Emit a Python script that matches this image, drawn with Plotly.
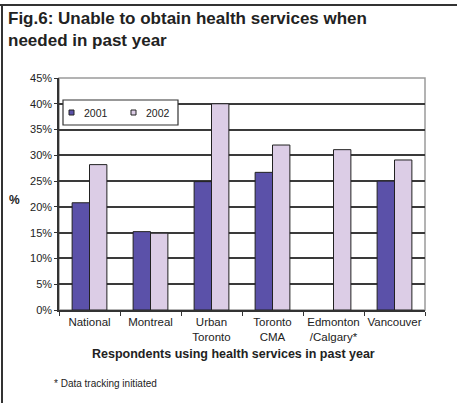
import plotly.graph_objects as go

categories = ["National", "Montreal", "Urban<br>Toronto", "Toronto<br>CMA", "Edmonton<br>/Calgary*", "Vancouver"]
series_names = ["2001", "2002"]
values_2001 = [20.8, 15.2, 24.9, 26.7, None, 25.0]
values_2002 = [28.2, 14.9, 40.0, 32.0, 31.1, 29.1]
y_ticks = [0, 5, 10, 15, 20, 25, 30, 35, 40, 45]
y_tick_labels = ["0%", "5%", "10%", "15%", "20%", "25%", "30%", "35%", "40%", "45%"]

C2001 = "#5b51a9"
C2002 = "#dccde6"
FONT = "Liberation Sans, Arial, sans-serif"

# plot area in pixels: x 59..425, y 78..310
L, R, T, B = 59, 425, 78, 310
PW, PH = R - L, B - T
def px(x):
    return (x - L) / PW
def py(y):
    return (B - y) / PH

fig = go.Figure()
fig.add_trace(go.Bar(x=categories, y=values_2001, name=series_names[0],
                     marker=dict(color=C2001, line=dict(color="#222", width=1))))
fig.add_trace(go.Bar(x=categories, y=values_2002, name=series_names[1],
                     marker=dict(color=C2002, line=dict(color="#222", width=1))))

shapes = [
    dict(type="rect", xref="paper", yref="paper", x0=0, x1=1, y0=0, y1=1,
         line=dict(color="#9a9a9a", width=1.5), layer="below"),
    # page frame (top and left)
    dict(type="line", xref="paper", yref="paper", x0=px(0), x1=px(457),
         y0=py(5), y1=py(5), line=dict(color="#333", width=2)),
    dict(type="line", xref="paper", yref="paper", x0=px(2), x1=px(2),
         y0=py(403), y1=py(5), line=dict(color="#333", width=2)),
    # legend box
    dict(type="rect", xref="paper", yref="paper", x0=px(63), x1=px(178),
         y0=py(125), y1=py(100), line=dict(color="#333", width=1.2), fillcolor="white"),
    # legend swatches
    dict(type="rect", xref="paper", yref="paper", x0=px(69), x1=px(74),
         y0=py(115), y1=py(110), line=dict(color="#222", width=1), fillcolor=C2001),
    dict(type="rect", xref="paper", yref="paper", x0=px(131), x1=px(136),
         y0=py(115), y1=py(110), line=dict(color="#222", width=1), fillcolor=C2002),
]

annotations = [
    dict(text="<b>Fig.6: Unable to obtain health services when<br>needed in past year</b>",
         xref="paper", yref="paper", x=px(6), y=py(7), xanchor="left", yanchor="top",
         align="left", showarrow=False, font=dict(family=FONT, size=17, color="#222")),
    dict(text=series_names[0], xref="paper", yref="paper", x=px(82), y=py(113),
         xanchor="left", yanchor="middle", showarrow=False, font=dict(family=FONT, size=10.5, color="#222")),
    dict(text=series_names[1], xref="paper", yref="paper", x=px(144), y=py(113),
         xanchor="left", yanchor="middle", showarrow=False, font=dict(family=FONT, size=10.5, color="#222")),
    dict(text="<b>Respondents using health services in past year</b>", xref="paper", yref="paper",
         x=px(233), y=py(354), xanchor="center", yanchor="middle", showarrow=False,
         font=dict(family=FONT, size=12.5, color="#222")),
    dict(text="* Data tracking initiated", xref="paper", yref="paper",
         x=px(52), y=py(383), xanchor="left", yanchor="middle", showarrow=False,
         font=dict(family=FONT, size=10, color="#222")),
    dict(text="<b>%</b>", xref="paper", yref="paper",
         x=px(14), y=py(200), xanchor="center", yanchor="middle", showarrow=False,
         font=dict(family=FONT, size=12, color="#222")),
]

fig.update_layout(
    width=457, height=403,
    margin=dict(l=L, r=457 - R, t=T, b=403 - B),
    paper_bgcolor="white", plot_bgcolor="white",
    font=dict(family=FONT, size=11, color="#222"),
    bargap=0.43, bargroupgap=0,
    barmode="group",
    showlegend=False,
    xaxis=dict(showline=True, linecolor="#333", linewidth=1.5, ticks="outside", tickson="boundaries",
               ticklen=4, tickcolor="#333", showgrid=False, range=[-0.5, 5.5],
               tickangle=0, automargin=False,
               tickfont=dict(family=FONT, size=11.5, color="#222")),
    yaxis=dict(range=[0, 45], tickvals=y_ticks, ticktext=y_tick_labels, showline=True, linecolor="#333",
               linewidth=1.5, ticks="outside", ticklen=3, tickcolor="#333",
               gridcolor="#3a3a3a", gridwidth=1.5, zeroline=False, automargin=False,
               tickfont=dict(family=FONT, size=11, color="#222")),
    shapes=shapes,
    annotations=annotations,
)

fig.write_html("out.html", config={"displayModeBar": False},
               post_script="document.body.style.margin='0';")
